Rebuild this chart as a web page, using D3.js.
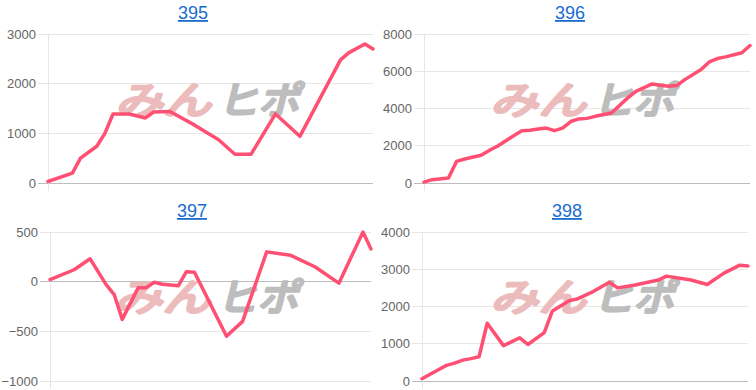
<!DOCTYPE html>
<html>
<head>
<meta charset="utf-8">
<script src="https://cdn.jsdelivr.net/npm/d3@7"></script>
<style>
  body { margin: 0; background: #fff; }
  .tick text { font-family: "Liberation Sans", Arial, sans-serif; font-size: 13px; fill: #666; }
  .title { font-family: "Liberation Sans", Arial, sans-serif; font-size: 18px; fill: #1a6ccf; text-decoration: underline; }
</style>
</head>
<body>
<div id="chart"></div>
<script>
"use strict";

// machine numbers (panel titles)
var titles = ["395", "396", "397", "398"];

// day index / cumulative value for each machine
var days395 = [0, 3, 4, 6, 7, 8, 10, 12, 13, 15, 18, 21, 23, 25, 28, 31, 36, 37, 39, 40];
var vals395 = [30, 200, 500, 740, 1000, 1390, 1390, 1310, 1430, 1440, 1170, 870, 580, 580, 1390, 940, 2480, 2620, 2800, 2700];

var days396 = [0, 1, 3, 4, 5, 7, 8, 9, 11, 12, 13, 14, 15, 16, 17, 18, 19, 20, 21, 23, 25, 26, 28, 29, 30, 31, 32, 34, 35, 36, 37, 39, 40];
var vals396 = [50, 180, 270, 1160, 1290, 1490, 1750, 1970, 2540, 2810, 2830, 2900, 2950, 2810, 2950, 3300, 3440, 3470, 3580, 3760, 4570, 4920, 5320, 5250, 5190, 5230, 5550, 6090, 6500, 6680, 6770, 6990, 7380];

var days397 = [0, 3, 5, 7, 8, 9, 11, 12, 13, 14, 16, 17, 18, 22, 24, 27, 30, 33, 36, 39, 40];
var vals397 = [20, 120, 230, -30, -130, -380, -60, -60, -6, -26, -40, 100, 95, -550, -400, 300, 265, 150, -15, 500, 330];

var days398 = [0, 1, 2, 3, 4, 5, 6, 7, 8, 10, 12, 13, 15, 16, 18, 19, 21, 23, 24, 26, 29, 30, 33, 35, 37, 39, 40];
var vals398 = [60, 180, 300, 420, 480, 560, 600, 650, 1550, 950, 1160, 980, 1300, 1880, 2150, 2200, 2400, 2650, 2500, 2570, 2710, 2816, 2710, 2590, 2890, 3110, 3090];

// y tick labels
var ticks395 = [0, 1000, 2000, 3000];
var ticks396 = [0, 2000, 4000, 6000, 8000];
var ticks397 = [-1000, -500, 0, 500];
var ticks398 = [0, 1000, 2000, 3000, 4000];

var dayMax = 40;

var series = [
  { days: days395, vals: vals395, ticks: ticks395 },
  { days: days396, vals: vals396, ticks: ticks396 },
  { days: days397, vals: vals397, ticks: ticks397 },
  { days: days398, vals: vals398, ticks: ticks398 }
];

// plot boxes inside the page
var boxes = [
  { x0: 48, x1: 373, y0: 34, y1: 183, tx: 193, ty: 19, wx: 211, wy: 100 },
  { x0: 424, x1: 750, y0: 34, y1: 183, tx: 570, ty: 19, wx: 586, wy: 100 },
  { x0: 50, x1: 371, y0: 232, y1: 381, tx: 192, ty: 217, wx: 210, wy: 297 },
  { x0: 422, x1: 748, y0: 232, y1: 381, tx: 567, ty: 217, wx: 586, wy: 297 }
];

var svg = d3.select("#chart")
            .append("svg")
            .attr("width", 756)
            .attr("height", 390);

series.forEach(function (s, i) {
  var b = boxes[i];

  var x = d3.scaleLinear().domain([0, dayMax]).range([b.x0, b.x1]);
  var y = d3.scaleLinear().domain(d3.extent(s.ticks)).range([b.y1, b.y0]);

  var g = svg.append("g");

  // grid lines
  g.selectAll(".grid")
   .data(s.ticks)
   .enter()
   .append("line")
   .attr("x1", b.x0 - 10)
   .attr("x2", b.x1)
   .attr("y1", function (d) { return y(d); })
   .attr("y2", function (d) { return y(d); })
   .attr("stroke", function (d) { return d == 0 ? "#bdbdbd" : "#e6e6e6"; })
   .attr("stroke-width", 1)
   .style("shape-rendering", "crispEdges");

  g.append("line")
   .attr("x1", b.x0).attr("x2", b.x0)
   .attr("y1", b.y0).attr("y2", b.y1 + 8)
   .attr("stroke", "#e6e6e6")
   .style("shape-rendering", "crispEdges");

  // watermark (fake bold with a stroke)
  var wm = g.append("g")
            .attr("transform", "translate(" + b.wx + "," + b.wy + ") skewX(-14)");
  wm.append("text")
    .attr("x", -92).attr("y", 14)
    .attr("textLength", 96)
    .attr("lengthAdjust", "spacingAndGlyphs")
    .style("font-family", "'Noto Sans CJK JP'")
    .style("font-size", "38px")
    .attr("fill", "#ecbcbc")
    .attr("stroke", "#ecbcbc")
    .attr("stroke-width", 3)
    .attr("stroke-linejoin", "round")
    .text("みん");
  wm.append("text")
    .attr("x", 10).attr("y", 14)
    .attr("textLength", 82)
    .attr("lengthAdjust", "spacingAndGlyphs")
    .style("font-family", "'Noto Sans CJK JP'")
    .style("font-size", "38px")
    .attr("fill", "#bdbdbd")
    .attr("stroke", "#bdbdbd")
    .attr("stroke-width", 3)
    .attr("stroke-linejoin", "round")
    .text("ヒポ");

  // y axis labels
  var axis = d3.axisLeft(y)
               .tickValues(s.ticks)
               .tickSize(0)
               .tickPadding(12)
               .tickFormat(d3.format("d"));
  g.append("g")
   .attr("transform", "translate(" + b.x0 + ",0)")
   .call(axis)
   .call(function (a) { a.select(".domain").remove(); });

  // line
  var pts = s.days.map(function (d, j) { return [d, s.vals[j]]; });
  var line = d3.line()
               .x(function (d) { return x(d[0]); })
               .y(function (d) { return y(d[1]); });
  g.append("path")
   .datum(pts)
   .attr("d", line)
   .attr("fill", "none")
   .attr("stroke", "#ff5073")
   .attr("stroke-width", 3.5)
   .attr("stroke-linejoin", "round")
   .attr("stroke-linecap", "round");

  // title link
  g.append("a")
   .attr("href", "#")
   .append("text")
   .attr("class", "title")
   .attr("x", b.tx)
   .attr("y", b.ty)
   .attr("text-anchor", "middle")
   .text(titles[i]);
});
</script>
</body>
</html>
